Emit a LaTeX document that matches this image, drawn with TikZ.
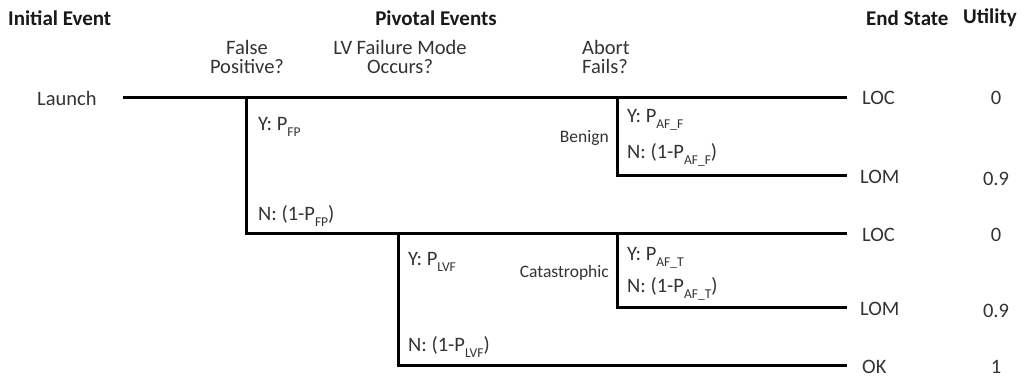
\documentclass[tikz,border=0pt]{standalone}
\usepackage{fontspec}
\setmainfont{Carlito}
\definecolor{txt}{HTML}{333333}
\newcommand{\sbs}[1]{\raisebox{-0.28em}{\fontsize{13.5}{13.5}\selectfont #1}}
\begin{document}
\begin{tikzpicture}[x=1pt,y=-1pt,
  ttl/.style={font=\fontsize{21}{24}\selectfont\bfseries, inner sep=0pt, text=black!90},
  lbl/.style={font=\fontsize{20.5}{20}\selectfont, inner sep=0pt, text=txt},
  sml/.style={font=\fontsize{17.5}{18}\selectfont, inner sep=0pt, text=txt},
  qst/.style={font=\fontsize{20.5}{19.5}\selectfont, inner sep=0pt, align=center, text=txt},
  br/.style={line width=3pt, line cap=butt, line join=miter}]
\useasboundingbox (0,0) rectangle (1032,377);
% titles
\node[ttl, anchor=west] (tie) at (8,18) {Initial Event};
\node[ttl] (tpe) at (436,18) {Pivotal Events};
\node[ttl, anchor=west] (tes) at (866,18) {End State};
\node[ttl, anchor=west] (tut) at (963,18) {Utility};
% questions
\node[qst] (qfp) at (247,57) {False\\Positive?};
\node[qst] (qlv) at (400,57) {LV Failure Mode\\Occurs?};
\node[qst, align=left, anchor=west] (qab) at (582,57) {Abort\\Fails?};
% initial
\node[lbl, anchor=west] (launch) at (37,98) {Launch};
% end states
\node[lbl, anchor=west] (es1) at (862,98) {LOC};
\node[lbl, anchor=west] (es2) at (860,177) {LOM};
\node[lbl, anchor=west] (es3) at (862,235) {LOC};
\node[lbl, anchor=west] (es4) at (860,309) {LOM};
\node[lbl, anchor=west] (es5) at (862,367) {OK};
% utilities
\node[lbl] (u1) at (996,98) {0};
\node[lbl] (u2) at (996,179) {0.9};
\node[lbl] (u3) at (996,235) {0};
\node[lbl] (u4) at (996,311) {0.9};
\node[lbl] (u5) at (996,367) {1};
% branch points
\coordinate (s0) at (123,98);
\coordinate (e1) at (847,98);
\coordinate (v1) at (246,98);
\coordinate (e3) at (847,233);
\coordinate (v2) at (398,233);
\coordinate (e5) at (847,365);
\coordinate (v3) at (617,98);
\coordinate (e2) at (847,175);
\coordinate (v4) at (617,233);
\coordinate (e4) at (847,307);
% lines
\draw[br] (s0) -- (e1);
\draw[br] (v1) |- (e3);
\draw[br] (v2) |- (e5);
\draw[br] (v3) |- (e2);
\draw[br] (v4) |- (e4);
% branch labels
\node[lbl, anchor=west] (yfp) at (258,127) {Y: P\sbs{FP}};
\node[lbl, anchor=west] (nfp) at (258,216) {N: (1-P\sbs{FP})};
\node[sml, anchor=east] (ben) at (609,138) {Benign};
\node[lbl, anchor=west] (yaf) at (627,120) {Y: P\sbs{AF\_F}};
\node[lbl, anchor=west] (naf) at (627,155) {N: (1-P\sbs{AF\_F})};
\node[lbl, anchor=west] (ylv) at (408,262) {Y: P\sbs{LVF}};
\node[lbl, anchor=west] (nlv) at (408,347) {N: (1-P\sbs{LVF})};
\node[sml, anchor=east] (cat) at (609,273) {Catastrophic};
\node[lbl, anchor=west] (yat) at (627,258) {Y: P\sbs{AF\_T}};
\node[lbl, anchor=west] (nat) at (627,289) {N: (1-P\sbs{AF\_T})};
\end{tikzpicture}
\end{document}
